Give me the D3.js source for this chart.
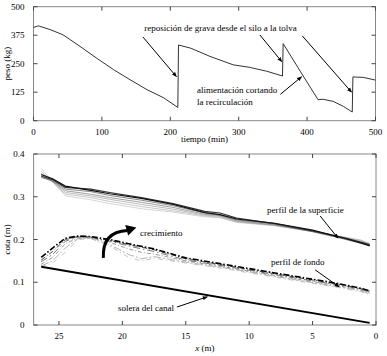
<!DOCTYPE html>
<html lang="es">
<head>
<meta charset="utf-8">
<title>Peso en la tolva y perfiles del canal</title>
<script src="https://d3js.org/d3.v7.min.js"></script>
<style>
  body { margin: 0; background: #fff; }
  svg { display: block; font-family: "Liberation Serif", "DejaVu Serif", serif; }
</style>
</head>
<body>
<svg id="chart" width="387" height="356"></svg>
<script>
// --- datos del panel superior: peso en la tolva ---
const tiempo = [0, 7, 24, 43, 68, 92, 117, 141, 166, 190, 211, 212, 230, 258, 292, 316, 341, 364, 365, 390, 416, 423, 438, 453, 466, 467, 482, 500];
const peso   = [409, 416, 400, 377, 326, 275, 224, 180, 136, 101, 58, 332, 318, 282, 245, 234, 217, 196, 338, 217, 92, 94, 85, 63, 38, 192, 190, 178];
const ticksTiempo = [0, 100, 200, 300, 400, 500];
const ticksPeso = [0, 125, 250, 375, 500];

// --- datos del panel inferior: perfiles a lo largo del canal ---
const xSup = [26.4, 25.5, 24.5, 22.5, 21, 18.5, 16, 13.5, 12.3, 11, 8, 5, 2.5, 1.2, 0.5];
const superficie = [
  [0.352, 0.342, 0.325, 0.315, 0.307, 0.296, 0.282, 0.263, 0.258, 0.248, 0.238, 0.222, 0.203, 0.192, 0.185],
  [0.348, 0.340, 0.322, 0.318, 0.310, 0.298, 0.284, 0.266, 0.262, 0.250, 0.237, 0.220, 0.204, 0.194, 0.188],
  [0.345, 0.337, 0.318, 0.312, 0.303, 0.292, 0.279, 0.262, 0.257, 0.246, 0.236, 0.219, 0.201, 0.191, 0.186],
  [0.350, 0.336, 0.314, 0.306, 0.298, 0.287, 0.275, 0.259, 0.256, 0.244, 0.234, 0.218, 0.202, 0.193, 0.187],
  [0.355, 0.335, 0.310, 0.302, 0.294, 0.282, 0.271, 0.257, 0.254, 0.242, 0.233, 0.219, 0.204, 0.197, 0.189],
  [0.360, 0.334, 0.306, 0.298, 0.289, 0.277, 0.267, 0.255, 0.252, 0.241, 0.233, 0.220, 0.205, 0.198, 0.190],
  [0.366, 0.336, 0.302, 0.293, 0.284, 0.272, 0.264, 0.253, 0.251, 0.240, 0.232, 0.219, 0.206, 0.199, 0.190]
];
const grisSup = ["#111", "#333", "#666", "#888", "#aaa", "#bbb", "#ccc"];

const xFondo = [26.4, 25.5, 24.5, 23.5, 22.5, 21, 19.5, 18.5, 17.5, 15, 12, 9, 6, 3, 1.2, 0.5];
const fondo = [
  [0.158, 0.180, 0.203, 0.208, 0.207, 0.200, 0.190, 0.184, 0.178, 0.157, 0.142, 0.127, 0.112, 0.097, 0.086, 0.080],
  [0.152, 0.172, 0.200, 0.207, 0.206, 0.198, 0.188, 0.182, 0.176, 0.155, 0.140, 0.125, 0.110, 0.096, 0.085, 0.079],
  [0.148, 0.165, 0.196, 0.206, 0.205, 0.196, 0.185, 0.178, 0.172, 0.152, 0.138, 0.123, 0.108, 0.094, 0.084, 0.077],
  [0.142, 0.158, 0.190, 0.204, 0.204, 0.193, 0.178, 0.170, 0.166, 0.150, 0.136, 0.121, 0.106, 0.092, 0.082, 0.075],
  [0.138, 0.150, 0.180, 0.202, 0.203, 0.188, 0.165, 0.155, 0.160, 0.147, 0.134, 0.119, 0.104, 0.090, 0.080, 0.073],
  [0.136, 0.145, 0.170, 0.200, 0.202, 0.185, 0.158, 0.150, 0.156, 0.145, 0.132, 0.117, 0.102, 0.088, 0.078, 0.071]
];
const grisFondo = ["#000", "#444", "#777", "#999", "#b3b3b3", "#c4c4c4"];
const trazoFondo = ["6,2,1.5,2", "5,2,1,2", "7,3,1.5,3", "4,2,1,2", "8,2,2,2", "5,3,1,3"];

const xSolera = [26.4, 0.5];
const solera = [0.136, 0.005];
const ticksX = [25, 20, 15, 10, 5, 0];
const ticksCota = [0, 0.1, 0.2, 0.3, 0.4];

const svg = d3.select("#chart");

// punta de flecha
svg.append("defs").append("marker")
    .attr("id", "punta")
    .attr("viewBox", "0 0 10 10")
    .attr("refX", 9).attr("refY", 5)
    .attr("markerWidth", 5).attr("markerHeight", 5)
    .attr("markerUnits", "userSpaceOnUse")
    .attr("orient", "auto")
  .append("path")
    .attr("d", "M0,1 L10,5 L0,9 Z")
    .attr("fill", "#000");

// marco con marcas hacia dentro en los cuatro lados
function marco(x, y, xt, yt, fmtX, fmtY) {
  const [x0, x1] = x.range().slice().sort((a, b) => a - b);
  const [y1, y0] = y.range();
  const g = svg.append("g");
  g.append("rect")
      .attr("x", x0).attr("y", y0)
      .attr("width", x1 - x0).attr("height", y1 - y0)
      .attr("fill", "none").attr("stroke", "#888").attr("stroke-width", 1);
  xt.forEach(v => {
    const px = x(v);
    g.append("line").attr("x1", px).attr("x2", px).attr("y1", y1).attr("y2", y1 - 4).attr("stroke", "#444");
    g.append("line").attr("x1", px).attr("x2", px).attr("y1", y0).attr("y2", y0 + 4).attr("stroke", "#444");
    g.append("text").attr("x", px).attr("y", y1 + 14)
        .attr("text-anchor", "middle").attr("font-size", 9).text(fmtX(v));
  });
  yt.forEach(v => {
    const py = y(v);
    g.append("line").attr("x1", x0).attr("x2", x0 + 4).attr("y1", py).attr("y2", py).attr("stroke", "#444");
    g.append("line").attr("x1", x1).attr("x2", x1 - 4).attr("y1", py).attr("y2", py).attr("stroke", "#444");
    g.append("text").attr("x", x0 - 9).attr("y", py + 3)
        .attr("text-anchor", "end").attr("font-size", 9).text(fmtY(v));
  });
}

function nota(x, y, txt, px, py) {
  svg.append("text")
      .attr("x", x(px)).attr("y", y(py))
      .attr("font-size", 9)
      .text(txt);
}

function flecha(x, y, a, b) {
  svg.append("line")
      .attr("x1", x(a[0])).attr("y1", y(a[1]))
      .attr("x2", x(b[0])).attr("y2", y(b[1]))
      .attr("stroke", "#000").attr("stroke-width", 1)
      .attr("marker-end", "url(#punta)");
}

// ---------- panel superior ----------
const xT = d3.scaleLinear().domain([0, 500]).range([33.5, 375.5]);
const yP = d3.scaleLinear().domain([0, 500]).range([120.7, 6.7]);

marco(xT, yP, ticksTiempo, ticksPeso, d3.format("d"), d3.format("d"));

svg.append("path")
    .datum(d3.zip(tiempo, peso))
    .attr("fill", "none").attr("stroke", "#333").attr("stroke-width", 1)
    .attr("d", d3.line().x(d => xT(d[0])).y(d => yP(d[1])));

svg.append("text").attr("x", (xT(0) + xT(500)) / 2).attr("y", 142)
    .attr("text-anchor", "middle").attr("font-size", 9).text("tiempo (min)");
svg.append("text").attr("transform", `translate(10,${(yP(0) + yP(500)) / 2}) rotate(-90)`)
    .attr("text-anchor", "middle").attr("font-size", 9).text("peso (kg)");

nota(xT, yP, "reposición de grava desde el silo a la tolva", 162, 394);
nota(xT, yP, "alimentación cortando", 239, 121);
nota(xT, yP, "la recirculación", 239, 69);
flecha(xT, yP, [160, 367], [209, 193]);
flecha(xT, yP, [331, 376], [363, 259]);
flecha(xT, yP, [393, 372], [465, 125]);
flecha(xT, yP, [361, 116], [392, 193]);

// ---------- panel inferior ----------
const xX = d3.scaleLinear().domain([27, 0]).range([33.6, 376]);
const yC = d3.scaleLinear().domain([0, 0.4]).range([325, 154]);

marco(xX, yC, ticksX, ticksCota, d3.format("d"), v => v === 0 ? "0" : d3.format(".1f")(v));

const linea = d3.line().x(d => xX(d[0])).y(d => yC(d[1]));

// superficie: de claro a oscuro para que las oscuras queden encima
superficie.map((s, i) => i).reverse().forEach(i => {
  svg.append("path")
      .datum(d3.zip(xSup, superficie[i]))
      .attr("fill", "none").attr("stroke", grisSup[i])
      .attr("stroke-width", i < 2 ? 1.2 : 0.8)
      .attr("d", linea);
});

fondo.map((s, i) => i).reverse().forEach(i => {
  svg.append("path")
      .datum(d3.zip(xFondo, fondo[i]))
      .attr("fill", "none").attr("stroke", grisFondo[i])
      .attr("stroke-width", i === 0 ? 1.6 : 1)
      .attr("stroke-dasharray", trazoFondo[i])
      .attr("d", linea);
});

svg.append("path")
    .datum(d3.zip(xSolera, solera))
    .attr("fill", "none").attr("stroke", "#000").attr("stroke-width", 2)
    .attr("d", linea);

svg.append("text").attr("x", (xX(27) + xX(0)) / 2).attr("y", 351)
    .attr("text-anchor", "middle").attr("font-size", 9)
    .html('<tspan font-style="italic">x</tspan> (m)');
svg.append("text").attr("transform", `translate(10,${(yC(0) + yC(0.4)) / 2}) rotate(-90)`)
    .attr("text-anchor", "middle").attr("font-size", 9).text("cota (m)");

// flecha curva "crecimiento"
const pc = d3.path();
pc.moveTo(xX(21.5), yC(0.157));
pc.quadraticCurveTo(xX(21.6), yC(0.218), xX(19.6), yC(0.221));
svg.append("path").attr("d", pc.toString())
    .attr("fill", "none").attr("stroke", "#000").attr("stroke-width", 3);
const ang = Math.atan2(yC(0.226) - yC(0.221), xX(19.0) - xX(19.6));
const tip = [xX(18.9), yC(0.228)];
const L = 10, W = 5.5;
const bx = tip[0] - L * Math.cos(ang), by = tip[1] - L * Math.sin(ang);
svg.append("path")
    .attr("d", `M${tip[0]},${tip[1]} L${bx - W * Math.sin(ang)},${by + W * Math.cos(ang)} L${bx + W * Math.sin(ang)},${by - W * Math.cos(ang)} Z`)
    .attr("fill", "#000");

nota(xX, yC, "crecimiento", 18.6, 0.208);
nota(xX, yC, "perfil de la superficie", 8.6, 0.262);
nota(xX, yC, "perfil de fondo", 8.28, 0.14);
nota(xX, yC, "solera del canal", 20.35, 0.033);
flecha(xX, yC, [4.4, 0.255], [3.0, 0.203]);
flecha(xX, yC, [4.8, 0.129], [2.9, 0.089]);
flecha(xX, yC, [15.7, 0.042], [13.3, 0.066]);
</script>
</body>
</html>
